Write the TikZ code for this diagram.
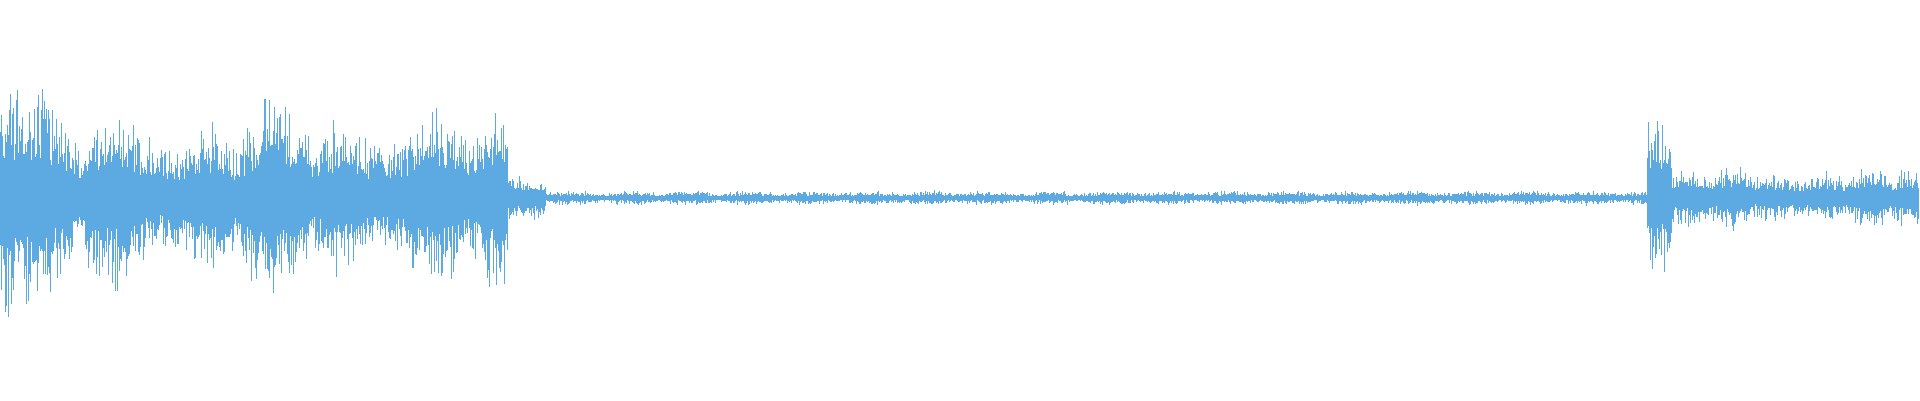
\documentclass[tikz,border=0pt]{standalone}
\definecolor{wave}{RGB}{93,170,226}
\begin{document}
\begin{tikzpicture}[x=1pt,y=1pt,wv/.style={draw=wave,line width=0.55pt}]
\useasboundingbox (0,0) rectangle (1920,400);
\pgfmathsetseed{7}
\foreach \X in {0,0.8,...,1919}{
  \pgfmathsetmacro{\env}{\X<50 ? 125 : (\X<508 ? 55+55*abs(sin(\X*2.3))*abs(sin(\X*0.9+20)) : (\X<545 ? 24 : (\X<1647 ? 5+3*abs(sin(\X*3)) : (\X<1672 ? 85 : 20+16*abs(sin(\X*4))*abs(sin(\X*1.1))))))}
  \pgfmathsetmacro{\up}{\env*(0.3+0.7*rnd*sqrt(rnd))}
  \pgfmathsetmacro{\dn}{\env*(0.3+0.7*rnd*sqrt(rnd))}
  \draw[wv] (\X,202+\up) -- (\X,202-\dn);
}
\end{tikzpicture}
\end{document}
